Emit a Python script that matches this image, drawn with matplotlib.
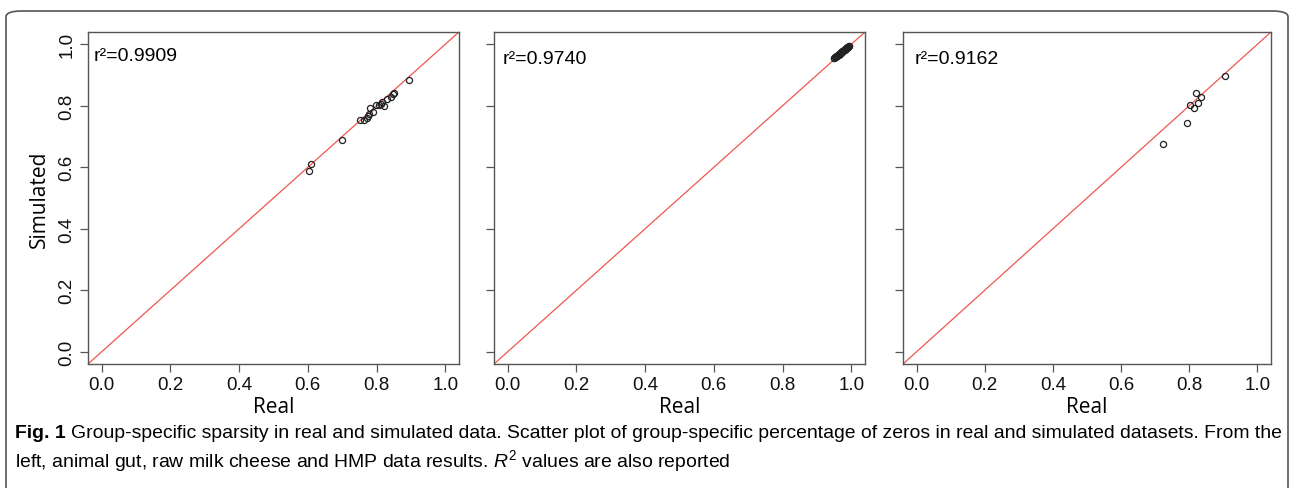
import numpy as np
import matplotlib
matplotlib.use("Agg")
import matplotlib.pyplot as plt
from matplotlib.patches import FancyBboxPatch

# group-specific fraction of zeros: real vs simulated
gut_real = [0.893, 0.852, 0.847, 0.841, 0.829, 0.817, 0.813, 0.822, 0.808, 0.797,
            0.781, 0.791, 0.779, 0.775, 0.771, 0.764, 0.752, 0.698, 0.609, 0.603]
gut_sim = [0.884, 0.843, 0.838, 0.829, 0.822, 0.811, 0.807, 0.800, 0.802, 0.802,
           0.793, 0.780, 0.773, 0.767, 0.761, 0.753, 0.754, 0.689, 0.609, 0.589]

cheese_real = [0.949, 0.951, 0.953, 0.955, 0.956, 0.958, 0.960, 0.961, 0.963, 0.964,
               0.966, 0.967, 0.969, 0.970, 0.972, 0.973, 0.975, 0.976, 0.978, 0.979,
               0.981, 0.982, 0.984, 0.985, 0.987, 0.988, 0.990, 0.991, 0.993, 0.994]
cheese_sim = [0.956, 0.955, 0.959, 0.958, 0.962, 0.961, 0.964, 0.965, 0.966, 0.968,
              0.969, 0.971, 0.972, 0.974, 0.975, 0.977, 0.978, 0.979, 0.981, 0.982,
              0.983, 0.985, 0.986, 0.987, 0.988, 0.990, 0.991, 0.992, 0.993, 0.994]

hmp_real = [0.906, 0.819, 0.836, 0.825, 0.803, 0.813, 0.793, 0.724]
hmp_sim = [0.898, 0.840, 0.830, 0.810, 0.801, 0.793, 0.744, 0.676]

r2_labels = ["r²=0.9909", "r²=0.9740", "r²=0.9162"]
ticks = [0.0, 0.2, 0.4, 0.6, 0.8, 1.0]
tick_labels = ["0.0", "0.2", "0.4", "0.6", "0.8", "1.0"]

cap_bold = "Fig. 1"
cap_line1 = ("Group-specific sparsity in real and simulated data. Scatter plot of group-specific "
             "percentage of zeros in real and simulated datasets. From the")
cap_line2 = "left, animal gut, raw milk cheese and HMP data results. $R^2$ values are also reported"

W, H = 1289, 489
fig = plt.figure(figsize=(W / 100, H / 100), dpi=100)
plt.rcParams["mathtext.fontset"] = "custom"
plt.rcParams["mathtext.rm"] = "Liberation Sans"
plt.rcParams["mathtext.it"] = "Liberation Sans:italic"

spine_col = "#555555"
font = ["Liberation Sans", "DejaVu Sans"]
boxes = [(88, 459), (494, 865), (903, 1271)]
top, bot = 33, 365
data = [(gut_real, gut_sim), (cheese_real, cheese_sim), (hmp_real, hmp_sim)]

for i, ((x0, x1), (xs, ys)) in enumerate(zip(boxes, data)):
    ax = fig.add_axes([x0 / W, 1 - bot / H, (x1 - x0) / W, (bot - top) / H])
    ax.set_xlim(-0.04, 1.04)
    ax.set_ylim(-0.04, 1.04)
    ax.plot([-0.04, 1.04], [-0.04, 1.04], color="#f0564f", lw=0.9, zorder=1)
    ax.plot(xs, ys, "o", mfc="none", mec="#222222", ms=4.4, mew=0.9, zorder=2)
    ax.set_xticks(ticks)
    ax.set_xticklabels(tick_labels, fontsize=13.5, family=font, color="#111111")
    ax.set_yticks(ticks)
    if i == 0:
        ax.set_yticklabels(tick_labels, fontsize=13.5, family=font, color="#111111",
                           rotation=90, va="center")
        ax.set_ylabel("Simulated", fontsize=15, family=["Open Sans", "DejaVu Sans"], labelpad=6)
    else:
        ax.set_yticklabels([])
    ax.set_xlabel("Real", fontsize=15, family=["Open Sans", "DejaVu Sans"], labelpad=2)
    ax.tick_params(direction="out", length=6, width=0.9, color=spine_col, pad=3)
    for s in ax.spines.values():
        s.set_color(spine_col)
        s.set_linewidth(1.0)
    ax.text(0.015 + 0.008 * i, 0.93 - 0.01 * (i > 0), r2_labels[i], transform=ax.transAxes,
            fontsize=14, family=font, va="center", ha="left")

# rounded frame around the figure
frame = FancyBboxPatch((6 / W, -0.2), (W - 7) / W, 1 - 12 / H + 0.2,
                       boxstyle="round,pad=0,rounding_size=0.012",
                       transform=fig.transFigure, fill=False,
                       edgecolor=spine_col, lw=1.2, clip_on=False)
fig.patches.append(frame)

# caption, sized so the first line runs from x=15 to x=1277
r = fig.canvas.get_renderer()
size = 13
t = fig.text(15 / W, 1 - 434 / H, cap_bold, fontsize=size, weight="bold",
             family=font, va="center")
t1 = fig.text(0, 1 - 434 / H, cap_line1, fontsize=size, family=font, va="center")
w_total = t.get_window_extent(r).width + 5 + t1.get_window_extent(r).width
size = size * (1277 - 15) / w_total
t.set_fontsize(size)
t1.set_fontsize(size)
bb = t.get_window_extent(r)
t1.set_x((bb.x1 + 5) / W)
fig.text(15 / W, 1 - 461 / H, cap_line2, fontsize=size, family=font, va="center")

fig.savefig("out.png", dpi=100)
